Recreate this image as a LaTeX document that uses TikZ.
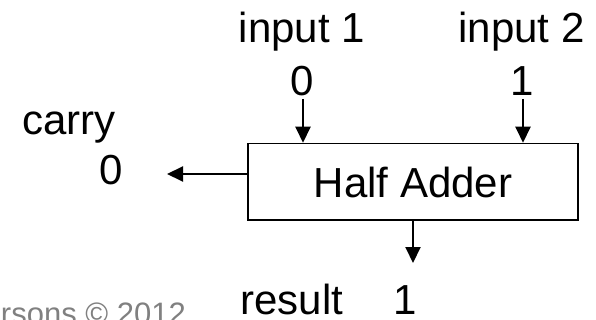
\documentclass[tikz,border=0pt]{standalone}
\usepackage{fontspec}
\setmainfont{Liberation Sans}
\usetikzlibrary{arrows.meta}
\definecolor{notegray}{RGB}{128,128,128}
\tikzset{
  lbl/.style={inner sep=0pt, anchor=base, font=\fontsize{42}{48}\selectfont},
  note/.style={inner sep=0pt, anchor=base east, text=notegray, font=\fontsize{31}{36}\selectfont},
  block/.style={draw, line width=1.5pt, minimum width=330pt, minimum height=76.5pt, inner sep=0pt},
  arr/.style={line width=2pt, -{Triangle[length=16pt,width=15pt]}}
}
\begin{document}
\begin{tikzpicture}[x=1pt,y=-1pt]
  \useasboundingbox (0,0) rectangle (596,320);
  \clip (0,0) rectangle (596,320);

  % the adder block
  \node[block] (box) at (413,181.75) {};
  \node[lbl] (name) at (413,197) {Half Adder};

  % inputs
  \node[lbl] (in1) at (302,43) {input 1};
  \node[lbl] (in1v) at (302,96) {0};
  \node[lbl] (in2) at (521.5,43) {input 2};
  \node[lbl] (in2v) at (522,96) {1};
  \coordinate (a1) at (303,99);
  \coordinate (a2) at (523,99);
  \draw[arr] (a1) -- (a1 |- box.north);
  \draw[arr] (a2) -- (a2 |- box.north);

  % carry output
  \node[lbl] (carry) at (69,135) {carry};
  \node[lbl] (carryv) at (111,185) {0};
  \coordinate (ct) at (167,174);
  \draw[arr] (box.west |- ct) -- (ct);

  % sum output
  \coordinate (rt) at (413,263);
  \draw[arr] (box.south) -- (rt);
  \node[lbl] (res) at (292,314) {result};
  \node[lbl] (resv) at (405,314) {1};

  % copyright note
  \node[note] (copy) at (186,324) {rsons © 2012};
\end{tikzpicture}
\end{document}
